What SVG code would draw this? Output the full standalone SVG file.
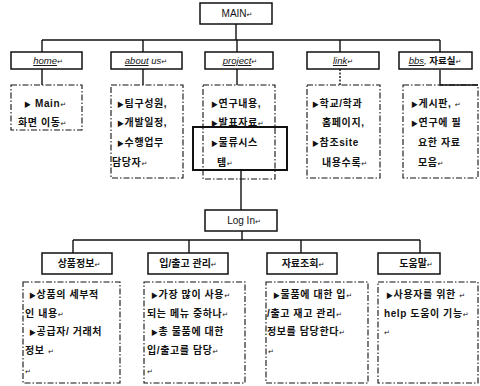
<svg xmlns="http://www.w3.org/2000/svg" width="480" height="386" viewBox="0 0 480 386">
<style>
text{font-family:'Liberation Sans','Noto Sans CJK KR','DejaVu Sans',sans-serif;fill:#111;}
.box{fill:#fff;stroke:#111;stroke-width:1.5;}
.dot{fill:none;stroke:#111;stroke-width:1.1;stroke-dasharray:6 2 1.5 2;}
.ln{fill:none;stroke:#111;stroke-width:1.4;}
.lbl{font-size:10px;text-anchor:middle;}
.top{font-size:9.5px;font-style:italic;text-anchor:middle;}
.u{text-decoration:underline;}
.b{font-size:10px;font-weight:bold;letter-spacing:0.6px;}
.pm{font-size:7px;font-weight:normal;}
.t{font-size:7px;}
</style>
<rect width="480" height="386" fill="#fff"/>
<g id="connectors">
<path class="ln" d="M236,24 V40 M42,40 H440 M42,40 V52 M143,40 V52 M237,40 V52 M340,40 V52 M440,40 V52"/>
<path class="ln" d="M42,69 V85 M143,69 V85 M237,69 V85 M440,70 V85 H478"/>
<path class="ln" d="M340,69 V85" stroke-dasharray="2 1.5"/>
<path class="ln" d="M241,170 V210 M242,231 V240 M73,240 H420 M73,240 V253 M189,240 V253 M301,240 V253 M420,240 V253"/>
</g>
<g id="main"><rect class="box" x="200" y="3" width="72" height="21"/><text class="lbl" x="237" y="17">MAIN<tspan class="pm">↵</tspan></text></g>
<g id="home"><rect class="box" x="11" y="52" width="71" height="17"/><text class="top" x="48" y="64"><tspan class="u">home</tspan><tspan class="pm">↵</tspan></text></g>
<g id="about"><rect class="box" x="111" y="52" width="71" height="17"/><text class="top" x="146" y="64"><tspan class="u">about</tspan> us<tspan class="pm">↵</tspan></text></g>
<g id="project"><rect class="box" x="205" y="52" width="68" height="17"/><text class="top" x="240" y="64"><tspan class="u">project</tspan><tspan class="pm">↵</tspan></text></g>
<g id="link"><rect class="box" x="307" y="52" width="72" height="17"/><text class="top" x="343" y="64"><tspan class="u">link</tspan><tspan class="pm">↵</tspan></text></g>
<g id="bbs"><rect class="box" x="399" y="52" width="73" height="17"/><text class="top" x="435" y="64"><tspan class="u">bbs</tspan>, <tspan font-style="normal" font-weight="bold">자료실</tspan><tspan class="pm">↵</tspan></text></g>
<g id="home-detail"><rect class="dot" x="11" y="85" width="71" height="45"/>
<text class="b" x="24" y="107"><tspan class="t">▶</tspan> Main<tspan class="pm">↵</tspan></text>
<text class="b" x="18" y="126">화면 이동<tspan class="pm">↵</tspan></text></g>
<g id="about-detail"><rect class="dot" x="111" y="85" width="72" height="93"/>
<text class="b" x="117" y="107"><tspan class="t">▶</tspan>팀구성원,</text>
<text class="b" x="117" y="126"><tspan class="t">▶</tspan>개발일정,</text>
<text class="b" x="117" y="146"><tspan class="t">▶</tspan>수행업무</text>
<text class="b" x="112" y="166">담당자<tspan class="pm">↵</tspan></text></g>
<g id="project-detail"><rect class="dot" x="203" y="85" width="72" height="94"/>
<text class="b" x="211" y="107"><tspan class="t">▶</tspan>연구내용,</text>
<text class="b" x="211" y="126"><tspan class="t">▶</tspan>발표자료<tspan class="pm">↵</tspan></text>
<text class="b" x="211" y="146"><tspan class="t">▶</tspan>물류시스</text>
<text class="b" x="217" y="166">템<tspan class="pm">↵</tspan></text>
<rect x="193" y="127" width="94" height="43" fill="none" stroke="#111" stroke-width="2"/></g>
<g id="link-detail"><rect class="dot" x="307" y="85" width="73" height="93"/>
<text class="b" x="312" y="107"><tspan class="t">▶</tspan>학교/학과</text>
<text class="b" x="322" y="126">홈페이지,</text>
<text class="b" x="312" y="146"><tspan class="t">▶</tspan>참조site</text>
<text class="b" x="322" y="166">내용수록<tspan class="pm">↵</tspan></text></g>
<g id="bbs-detail"><rect class="dot" x="403" y="85" width="75" height="93"/>
<text class="b" x="411" y="107"><tspan class="t">▶</tspan>게시판, <tspan class="pm">↵</tspan></text>
<text class="b" x="411" y="126"><tspan class="t">▶</tspan>연구에 필</text>
<text class="b" x="418" y="146">요한 자료</text>
<text class="b" x="418" y="166">모음<tspan class="pm">↵</tspan></text></g>
<g id="login"><rect class="box" x="205" y="210" width="72" height="21"/><text class="lbl" x="244" y="224">Log In<tspan class="pm">↵</tspan></text></g>
<g id="goods"><rect class="box" x="42" y="253" width="70" height="21"/><text class="lbl" x="79" y="267" font-weight="bold">상품정보<tspan class="pm">↵</tspan></text></g>
<g id="inout"><rect class="box" x="148" y="253" width="80" height="21"/><text class="lbl" x="188" y="267" font-weight="bold">입/출고 관리<tspan class="pm">↵</tspan></text></g>
<g id="search"><rect class="box" x="267" y="253" width="70" height="21"/><text class="lbl" x="303" y="267" font-weight="bold">자료조회<tspan class="pm">↵</tspan></text></g>
<g id="help"><rect class="box" x="378" y="253" width="62" height="21"/><text class="lbl" x="416" y="267" font-weight="bold">도움말<tspan class="pm">↵</tspan></text></g>
<g id="goods-detail"><rect class="dot" x="23" y="282" width="97" height="101"/>
<text class="b" x="29" y="298"><tspan class="t">▶</tspan>상품의 세부적</text>
<text class="b" x="25" y="317">인 내용<tspan class="pm">↵</tspan></text>
<text class="b" x="29" y="335"><tspan class="t">▶</tspan>공급자/ 거래처</text>
<text class="b" x="25" y="354">정보 <tspan class="pm">↵</tspan></text>
<text class="b" x="25" y="374"><tspan class="pm">↵</tspan></text></g>
<g id="inout-detail"><rect class="dot" x="144" y="282" width="101" height="101"/>
<text class="b" x="151" y="298"><tspan class="t">▶</tspan>가장 많이 사용<tspan class="pm">↵</tspan></text>
<text class="b" x="147" y="317">되는 메뉴 중하나<tspan class="pm">↵</tspan></text>
<text class="b" x="151" y="335"><tspan class="t">▶</tspan>총 물품에 대한</text>
<text class="b" x="147" y="354">입/출고를 담당<tspan class="pm">↵</tspan></text>
<text class="b" x="147" y="374"><tspan class="pm">↵</tspan></text></g>
<g id="search-detail"><rect class="dot" x="266" y="282" width="102" height="101"/>
<text class="b" x="273" y="298"><tspan class="t">▶</tspan>물품에 대한 입<tspan class="pm">↵</tspan></text>
<text class="b" x="267" y="317">/출고 재고 관리<tspan class="pm">↵</tspan></text>
<text class="b" x="267" y="335">정보를 담당한다<tspan class="pm">↵</tspan></text>
<text class="b" x="268" y="354"><tspan class="pm">↵</tspan></text></g>
<g id="help-detail"><rect class="dot" x="378" y="282" width="100" height="101"/>
<text class="b" x="386" y="298"><tspan class="t">▶</tspan>사용자를 위한 <tspan class="pm">↵</tspan></text>
<text class="b" x="384" y="317">help 도움이 기능<tspan class="pm">↵</tspan></text>
<text class="b" x="384" y="335"><tspan class="pm">↵</tspan></text></g>
</svg>
